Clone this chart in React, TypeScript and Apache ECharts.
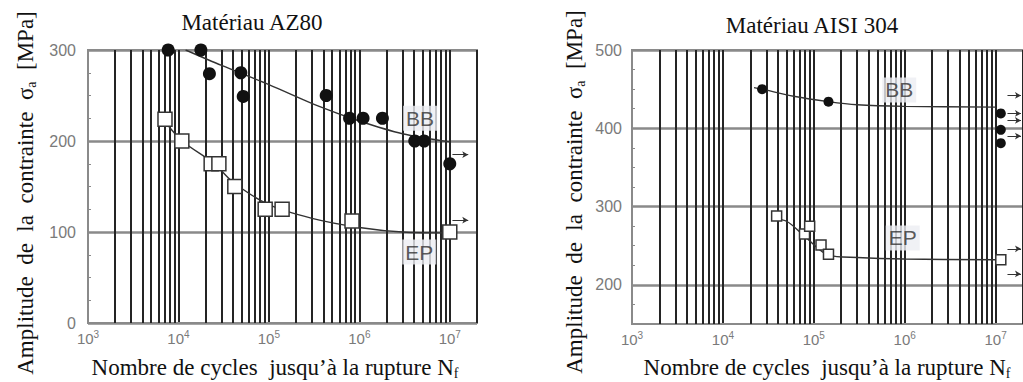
import React, { useEffect, useRef } from 'react';
import * as echarts from 'echarts';

// ---------- data ----------
const decadeExponents = [3, 4, 5, 6, 7];
const minorMultipliers = [2, 3, 4, 5, 6, 7, 8, 9];

// AZ80 (left)
const az80BBPoints: [number, number][] = [
  [7.7e3, 300], [1.77e4, 300], [2.2e4, 274], [4.9e4, 275], [5.2e4, 249], [4.3e5, 250],
  [7.8e5, 225], [1.1e6, 225], [1.8e6, 225], [4.1e6, 200], [5.2e6, 200], [1.0e7, 175],
];
const az80EPPoints: [number, number][] = [
  [7.1e3, 224], [1.09e4, 200], [2.3e4, 175], [2.8e4, 175], [4.2e4, 150], [9.1e4, 125],
  [1.4e5, 125], [8.3e5, 112], [1.0e7, 100],
];
const az80BBCurve: [number, number][] = [
  [1.2e4, 300], [3e4, 283], [1e5, 262], [3.6e5, 238], [1e6, 222], [3e6, 208], [1e7, 199],
];
const az80EPCurve: [number, number][] = [
  [7e3, 222], [1.1e4, 200], [2.5e4, 175], [4e4, 155], [1e5, 130], [3e5, 115], [1e6, 105], [3e6, 100], [1e7, 99],
];
const az80Runouts: [number, number, number][] = [
  // [xStart, xEnd, stress]
  [1.07e7, 1.6e7, 185],
  [1.07e7, 1.6e7, 113],
];
const az80Labels: [number, number, string][] = [
  [4.7e6, 225, 'BB'],
  [4.6e6, 78, 'EP'],
];

// AISI 304 (right)
const aisiBBPoints: [number, number][] = [
  [2.7e4, 450], [1.45e5, 434], [1.14e7, 419], [1.14e7, 398], [1.14e7, 381],
];
const aisiEPPoints: [number, number][] = [
  [3.9e4, 288], [7.9e4, 265], [9e4, 275], [1.2e5, 251], [1.45e5, 239], [1.14e7, 232],
];
const aisiBBCurve: [number, number][] = [
  [2.2e4, 452], [2.7e4, 450], [6e4, 441], [1.45e5, 434], [3e5, 430], [1e6, 428], [1e7, 427],
];
const aisiEPCurve: [number, number][] = [
  [3.4e4, 283], [4.5e4, 283], [7.9e4, 262], [1.45e5, 238], [3e5, 235], [1e6, 233], [1e7, 232],
];
const aisiRunouts: [number, number, number][] = [
  [1.35e7, 1.9e7, 442],
  [1.35e7, 1.9e7, 419],
  [1.35e7, 1.9e7, 410],
  [1.35e7, 1.9e7, 390],
  [1.35e7, 1.9e7, 246],
  [1.35e7, 1.9e7, 214],
];
const aisiLabels: [number, number, string][] = [
  [8.7e5, 449, 'BB'],
  [9.5e5, 260, 'EP'],
];

const titles = ['Matériau AZ80', 'Matériau AISI 304'];
const yTitle = 'Amplitude  de  la  contrainte  σ{sub|a}  [MPa]';
const xTitle = 'Nombre de cycles  jusqu\u2019à la rupture N{sub|f}';

// ---------- styles ----------
const serif = '"Liberation Serif", "Times New Roman", serif';
const sans = '"Liberation Sans", Arial, sans-serif';
const gridGray = '#8a8a8a';
const vLine = '#242424';
const labelGray = '#7a7a7a';

const minorValues: number[] = [];
decadeExponents.forEach((e) => {
  if (e < 7) minorMultipliers.forEach((m) => minorValues.push(m * Math.pow(10, e)));
});
minorValues.push(2e7);

function xLabelFormatter(v: number) {
  const e = Math.round(Math.log10(v));
  if (!decadeExponents.includes(e) || Math.abs(Math.pow(10, e) - v) / v > 1e-6) return '';
  return `{b|10}{s|${e}}`;
}

function makeXAxis(gridIndex: number) {
  return {
    type: 'log',
    gridIndex,
    logBase: 10,
    min: 1e3,
    max: 2e7,
    axisLine: { show: true, lineStyle: { color: gridGray, width: 2 } },
    axisTick: { show: false },
    splitLine: { show: true, showMinLine: false, showMaxLine: false, lineStyle: { color: vLine, width: 2 } },
    axisLabel: {
      margin: 6,
      showMaxLabel: false,
      formatter: xLabelFormatter,
      rich: {
        b: { fontSize: 15, fontFamily: sans, color: labelGray, lineHeight: 19 },
        s: { fontSize: 10, fontFamily: sans, color: labelGray, lineHeight: 10, verticalAlign: 'top' },
      },
    },
  };
}

function gridSeries(xi: number, bb: [number, number][], ep: [number, number][], bbCurve: [number, number][], epCurve: [number, number][], runouts: [number, number, number][], labels: [number, number, string][], circleSize: number, squareSize: number) {
  return [
    {
      type: 'line',
      xAxisIndex: xi,
      yAxisIndex: xi,
      data: bbCurve,
      smooth: 0.3,
      showSymbol: false,
      silent: true,
      z: 2,
      lineStyle: { color: '#333', width: 1.4 },
      markLine: {
        silent: true,
        z: 1,
        symbol: 'none',
        label: { show: false },
        lineStyle: { color: vLine, width: 2, type: 'solid' },
        data: minorValues.map((v) => ({ xAxis: v })),
      },
    },
    {
      type: 'line',
      xAxisIndex: xi,
      yAxisIndex: xi,
      data: epCurve,
      smooth: 0.3,
      showSymbol: false,
      silent: true,
      z: 2,
      lineStyle: { color: '#333', width: 1.4 },
      markLine: {
        silent: true,
        z: 3,
        symbol: ['none', 'arrow'],
        symbolSize: [5, 6],
        label: { show: false },
        lineStyle: { color: '#333', width: 1, type: 'solid' },
        data: runouts.map(([x1, x2, y]) => [{ coord: [x1, y] }, { coord: [x2, y] }]),
      },
    },
    {
      type: 'scatter',
      name: 'BB',
      xAxisIndex: xi,
      yAxisIndex: xi,
      data: bb,
      symbol: 'circle',
      symbolSize: circleSize,
      z: 4,
      itemStyle: { color: '#111', opacity: 1 },
    },
    {
      type: 'scatter',
      name: 'EP',
      xAxisIndex: xi,
      yAxisIndex: xi,
      data: ep,
      symbol: 'rect',
      symbolSize: squareSize,
      z: 4,
      itemStyle: { color: '#fff', borderColor: '#333', borderWidth: 1.5, opacity: 1 },
    },
    {
      type: 'scatter',
      xAxisIndex: xi,
      yAxisIndex: xi,
      data: labels.map(([x, y, n]) => ({ value: [x, y], name: n })),
      symbolSize: 1,
      z: 5,
      silent: true,
      itemStyle: { color: 'transparent' },
      label: {
        show: true,
        position: 'inside',
        formatter: '{b}',
        fontSize: 21,
        fontFamily: sans,
        color: '#303030',
        padding: [3, 3, 1, 3],
        backgroundColor: '#eceef2',
      },
    },
  ];
}

function subRich(size: number) {
  return {
    sub: { fontSize: size, fontFamily: serif, fill: '#111', verticalAlign: 'bottom', lineHeight: size },
  };
}

export default function App() {
  const ref = useRef<HTMLDivElement>(null);
  useEffect(() => {
    if (!ref.current) return;
    const chart = echarts.init(ref.current, undefined, { renderer: 'svg' });
    const textBase = { fontFamily: serif, fontSize: 23, fill: '#111', align: 'center', verticalAlign: 'middle', lineHeight: 27 };
    chart.setOption({
      animation: false,
      backgroundColor: '#fff',
      grid: [
        { left: 88, top: 50, width: 389, height: 273, show: true, borderColor: gridGray, borderWidth: 2, backgroundColor: 'transparent' },
        { left: 632, top: 50, width: 391, height: 274, show: true, borderColor: gridGray, borderWidth: 2, backgroundColor: 'transparent' },
      ],
      xAxis: [makeXAxis(0), makeXAxis(1)],
      yAxis: [
        {
          type: 'value', gridIndex: 0, min: 0, max: 300, interval: 100,
          axisLine: { show: true, lineStyle: { color: gridGray, width: 2 } },
          axisTick: { show: true, inside: true, length: 3, lineStyle: { color: gridGray } },
          minorTick: { show: true, splitNumber: 4, length: 3, lineStyle: { color: gridGray } },
          splitLine: { show: true, lineStyle: { color: gridGray, width: 2.5 } },
          axisLabel: { margin: 12, fontSize: 16, fontFamily: sans, color: labelGray },
        },
        {
          type: 'value', gridIndex: 1, min: 150, max: 500, interval: 50,
          axisLine: { show: true, lineStyle: { color: gridGray, width: 2 } },
          axisTick: { show: true, inside: true, length: 3, lineStyle: { color: gridGray } },
          minorTick: { show: true, splitNumber: 2, length: 3, lineStyle: { color: gridGray } },
          splitLine: { show: true, lineStyle: { color: ['transparent', gridGray], width: 2.5 } },
          axisLabel: {
            margin: 10, fontSize: 16, fontFamily: sans, color: labelGray,
            formatter: (v: number) => (v % 100 === 0 ? String(v) : ''),
          },
        },
      ],
      series: [
        ...gridSeries(0, az80BBPoints, az80EPPoints, az80BBCurve, az80EPCurve, az80Runouts, az80Labels, 13, 14),
        ...gridSeries(1, aisiBBPoints, aisiEPPoints, aisiBBCurve, aisiEPCurve, aisiRunouts, aisiLabels, 10, 10),
      ],
      graphic: [
        { type: 'text', x: 252, y: 22, silent: true, style: { ...textBase, text: titles[0] } },
        { type: 'text', x: 812, y: 25, silent: true, style: { ...textBase, text: titles[1] } },
        { type: 'text', x: 25, y: 193, rotation: Math.PI / 2, silent: true, style: { ...textBase, text: yTitle, rich: subRich(14) } },
        { type: 'text', x: 574, y: 192, rotation: Math.PI / 2, silent: true, style: { ...textBase, text: yTitle, rich: subRich(14) } },
        { type: 'text', x: 275, y: 367, silent: true, style: { ...textBase, text: xTitle, rich: subRich(14) } },
        { type: 'text', x: 827, y: 367, silent: true, style: { ...textBase, text: xTitle, rich: subRich(14) } },
      ],
    });
    return () => chart.dispose();
  }, []);
  return <div ref={ref} style={{ position: 'absolute', left: 0, top: 0, width: 1023, height: 382 }} />;
}
